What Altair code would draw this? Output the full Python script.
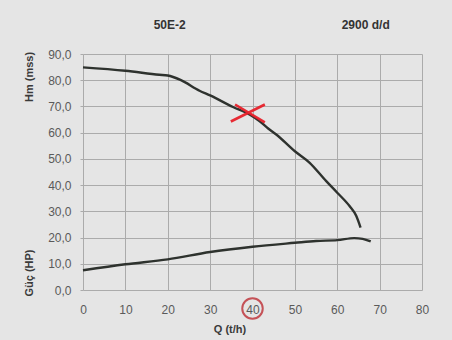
import altair as alt
import pandas as pd

# Head curve Hm (mss) vs Q (t/h)
head_q = [0, 10, 18, 20, 23, 27.5, 30, 35.4, 39.3, 41.7, 43.7, 45.6, 50, 53.5, 57.4, 60, 62.9, 64.5, 65.5]
head_h = [84.9, 83.6, 82.1, 81.8, 80.1, 76.0, 74.2, 69.8, 66.9, 64.3, 61.6, 59.3, 52.9, 48.5, 41.5, 37.1, 32.0, 28.2, 23.8]

# Power curve Güç (HP) vs Q (t/h)
power_q = [0, 10, 20, 30, 40, 50, 55, 60, 64, 66, 67.9]
power_p = [7.5, 9.8, 11.7, 14.5, 16.5, 18.0, 18.7, 19.0, 19.8, 19.5, 18.5]

# Annotations
mark_q = [38.9]
mark_h = [67.5]
circle_q = [40]

titles = ["50E-2", "2900 d/d"]
y_titles = ["Hm (mss)", "Güç (HP)"]
x_title = "Q (t/h)"
x_ticks = [0, 10, 20, 30, 40, 50, 60, 70, 80]
y_ticks = [0, 10, 20, 30, 40, 50, 60, 70, 80, 90]

W, H = 339, 236

head_df = pd.DataFrame({"Q": head_q, "V": head_h, "s": "head"})
power_df = pd.DataFrame({"Q": power_q, "V": power_p, "s": "power"})
curves = pd.concat([head_df, power_df])

xs = alt.Scale(domain=[0, 80], nice=False, zero=False)
ys = alt.Scale(domain=[0, 90], nice=False, zero=False)

x_axis = alt.Axis(
    values=x_ticks, title=None, domain=False, tickSize=0,
    labelOverlap=False, labelFlush=False, labelBound=False,
    labelPadding=14, labelFontSize=12, labelColor="#5a5a5a",
    labelFont="Liberation Sans", gridColor="#ababab", gridWidth=1)
y_axis = alt.Axis(
    values=y_ticks, title=None, domain=False, tickSize=3,
    labelOverlap=False, labelFlush=False, labelBound=False,
    tickColor="#ababab", labelPadding=9, labelFontSize=12,
    labelColor="#5a5a5a", labelFont="Liberation Sans",
    labelExpr="replace(format(datum.value, '.1f'), '.', ',')",
    gridColor="#ababab", gridWidth=1)

base = alt.Chart(curves).mark_line(
    color="#2e322e", strokeWidth=2.4, interpolate="monotone"
).encode(
    x=alt.X("Q:Q", scale=xs, axis=x_axis),
    y=alt.Y("V:Q", scale=ys, axis=y_axis),
    detail="s:N",
)

cross = alt.Chart(pd.DataFrame({"Q": mark_q, "V": mark_h})).mark_point(
    shape="M-1,0.5L1,-0.5M-0.75,-0.5L1,0.55", size=1156, filled=False,
    stroke="#e8202a", strokeWidth=2.6, opacity=0.95
).encode(x=alt.X("Q:Q", scale=xs, axis=x_axis), y=alt.Y("V:Q", scale=ys, axis=y_axis))

circle = alt.Chart(pd.DataFrame({"Q": circle_q})).mark_point(
    shape="circle", size=420, filled=False, stroke="#b8141c", strokeWidth=2
).encode(x=alt.X("Q:Q", scale=xs, axis=x_axis), y=alt.value(H + 18.5))

tdf = pd.DataFrame({"t": titles, "px": [86.7, 282.7]})
top_titles = alt.Chart(tdf).mark_text(
    fontSize=12, fontWeight="bold", color="#333333", font="Liberation Sans"
).encode(text="t:N", x=alt.X("px:Q", scale=None), y=alt.value(-29))

ydf = pd.DataFrame({"t": y_titles, "py": [23, 219]})
side_titles = alt.Chart(ydf).mark_text(
    fontSize=11, fontWeight="bold", color="#3a3a3a", angle=270,
    font="Liberation Sans"
).encode(text="t:N", x=alt.value(-53), y=alt.Y("py:Q", scale=None))

xt = alt.Chart(pd.DataFrame({"t": [x_title]})).mark_text(
    fontSize=11, fontWeight="bold", color="#3a3a3a", font="Liberation Sans"
).encode(text="t:N", x=alt.value(147), y=alt.value(276))

chart = alt.layer(base, cross, circle, top_titles, side_titles, xt).properties(
    width=W, height=H,
    background="#e5e5e5",
    padding={"left": 83, "top": 54, "right": 30, "bottom": 50},
    autosize=alt.AutoSizeParams(type="none"),
).configure_view(stroke=None)

chart.save("out.html", embed_options={"renderer": "svg", "actions": False})
